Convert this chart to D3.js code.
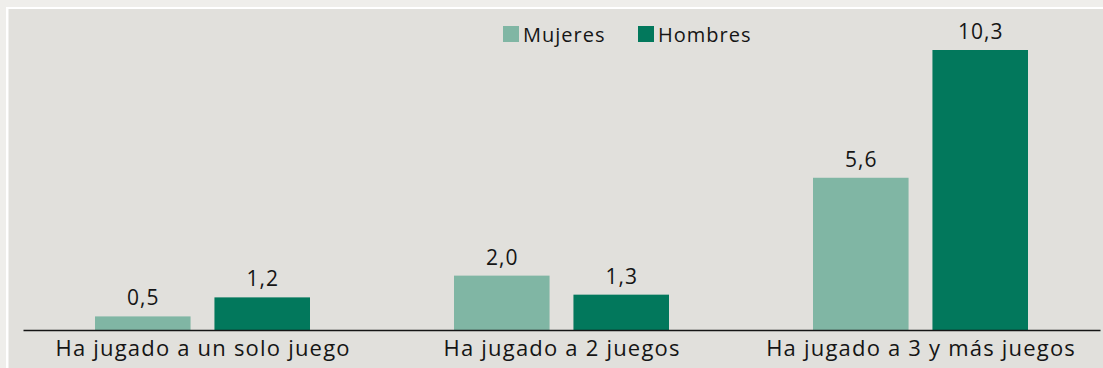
<!DOCTYPE html>
<html>
<head>
<meta charset="utf-8">
<script src="https://cdn.jsdelivr.net/npm/d3@7"></script>
<style>
  html, body { margin: 0; padding: 0; background: #efeeeb; }
  svg { display: block; }
  text { font-family: "Open Sans", Lato, sans-serif; fill: #151515; }
</style>
</head>
<body>
<svg id="chart" width="1103" height="368"></svg>
<script>
// Data
const categories = ["Ha jugado a un solo juego", "Ha jugado a 2 juegos", "Ha jugado a 3 y más juegos"];
const seriesNames = ["Mujeres", "Hombres"];
const mujeres = [0.5, 2.0, 5.6];
const hombres = [1.2, 1.3, 10.3];
const seriesColors = ["#80b6a4", "#02785c"];

const W = 1103, H = 368;
const svg = d3.select("#chart");

// Panel with white frame
svg.append("rect").attr("x", 0).attr("y", 0).attr("width", W).attr("height", H).attr("fill", "#efeeeb");
svg.append("rect").attr("x", 6).attr("y", 7).attr("width", W - 6).attr("height", H - 7).attr("fill", "#ffffff");
svg.append("rect").attr("x", 8.5).attr("y", 9).attr("width", W - 8.5).attr("height", H - 9).attr("fill", "#e1e0dc");

const baseY = 330;
const x0 = d3.scaleBand().domain(categories).range([23, 1100]).padding(0);
const x1 = d3.scaleBand().domain(seriesNames).range([72, x0.bandwidth() - 72]).paddingInner(0.2).paddingOuter(0);
const y = d3.scaleLinear().domain([0, 10.3]).range([baseY, 50]);

const rows = categories.map((c, i) => ({ cat: c, values: [mujeres[i], hombres[i]] }));

const fmt = v => d3.format(".1f")(v).replace(".", ",");

const groups = svg.append("g").selectAll("g").data(rows).join("g")
  .attr("transform", d => `translate(${x0(d.cat)},0)`);

groups.selectAll("rect").data(d => d.values.map((v, j) => ({ name: seriesNames[j], v, j })))
  .join("rect")
  .attr("x", d => x1(d.name))
  .attr("y", d => y(d.v))
  .attr("width", x1.bandwidth())
  .attr("height", d => baseY - y(d.v))
  .attr("fill", d => seriesColors[d.j]);

// Value labels above each bar
groups.selectAll("text.val").data(d => d.values.map((v, j) => ({ name: seriesNames[j], v, j })))
  .join("text")
  .attr("class", "val")
  .attr("x", d => x1(d.name) + x1.bandwidth() / 2)
  .attr("dx", 0.5)
  .attr("y", d => y(d.v) - 11)
  .attr("text-anchor", "middle")
  .attr("font-size", 21)
  .attr("letter-spacing", 1)
  .text(d => fmt(d.v));

// Baseline axis
const xAxis = d3.axisBottom(x0).tickSize(0).tickPadding(6);
const ax = svg.append("g").attr("transform", `translate(0,${baseY})`).call(xAxis);
ax.select(".domain").attr("stroke", "#151515").attr("stroke-width", 1.3);
ax.selectAll(".tick text").attr("font-size", 22).attr("fill", "#151515")
  .attr("font-family", "'Open Sans', Lato, sans-serif")
  .attr("letter-spacing", 1.2).attr("dx", 0.6).attr("dy", "0.93em");

// Legend
const legendItems = [
  { name: seriesNames[0], color: seriesColors[0], x: 503 },
  { name: seriesNames[1], color: seriesColors[1], x: 638 }
];
const lg = svg.append("g").selectAll("g").data(legendItems).join("g")
  .attr("transform", d => `translate(${d.x},26)`);
lg.append("rect").attr("width", 16).attr("height", 16).attr("fill", d => d.color);
lg.append("text").attr("x", 20).attr("y", 15.5).attr("font-size", 20).attr("letter-spacing", 1).text(d => d.name);
</script>
</body>
</html>
